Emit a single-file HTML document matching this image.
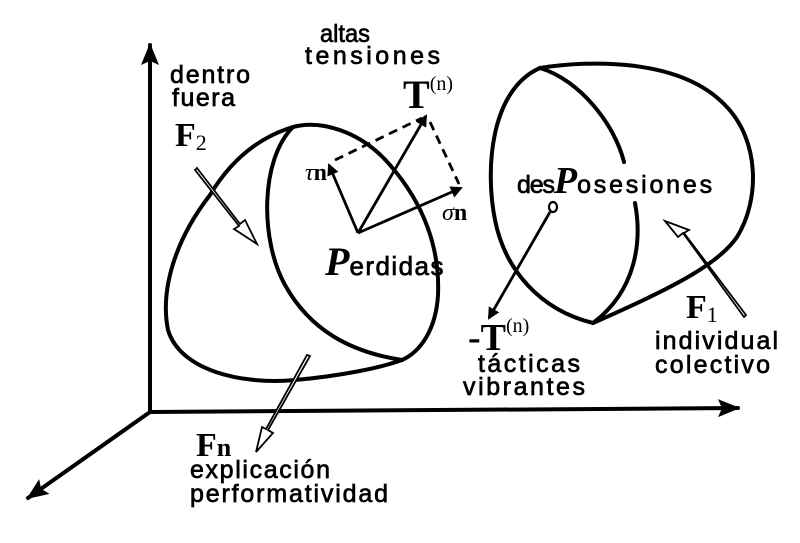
<!DOCTYPE html>
<html><head><style>
html,body{margin:0;padding:0;background:#fff;}
svg{display:block;}
text{fill:#000;}
.s{font-family:"Liberation Sans",sans-serif;}
.r{font-family:"Liberation Serif",serif;}
</style></head><body>
<svg width="800" height="543" viewBox="0 0 800 543">
<defs>
<marker id="a" markerWidth="12" markerHeight="12" refX="10" refY="6" orient="auto" markerUnits="userSpaceOnUse" viewBox="0 0 12 12"><path d="M0,0 L12,6 L0,12 z" fill="#000"/></marker>
<marker id="b" markerWidth="22" markerHeight="18" refX="20" refY="9" orient="auto" markerUnits="userSpaceOnUse" viewBox="0 0 22 18"><path d="M0,0 L22,9 L0,18 L4,9 z" fill="#000"/></marker>
</defs>
<g stroke="#000" fill="none" stroke-width="4" stroke-linecap="round">
<line x1="150" y1="412" x2="150" y2="45" marker-end="url(#b)"/>
<line x1="150" y1="412" x2="738" y2="408" marker-end="url(#b)"/>
<line x1="150" y1="412" x2="28" y2="498" marker-end="url(#b)"/>
<path d="M293,127 C250,140 225,170 210,195 C175,240 160,290 168,330 C180,370 240,385 295,380 C340,376 380,368 402,360"/>
<path d="M293,127 C320,120 360,130 390,165 C425,205 440,250 438,295 C436,330 420,352 402,360"/>
<path d="M293,127 C260,160 260,240 285,285 C310,330 350,352 402,360"/>
<path d="M540,68 C590,60 680,58 725,105 C760,140 760,200 737,237 C720,262 680,285 593,323 C540,310 505,270 495,220 C485,170 490,90 540,68 Z"/>
<path d="M540,68 C580,80 615,125 624,162"/>
<path d="M635,203 C642,240 637,290 593,323"/>
</g>
<g stroke="#000" fill="none" stroke-width="2.8">
<line x1="358" y1="233" x2="426" y2="116" marker-end="url(#a)"/>
<line x1="358" y1="233" x2="329" y2="165" marker-end="url(#a)"/>
<line x1="358" y1="233" x2="461" y2="188" marker-end="url(#a)"/>
<path d="M335,160 L422,118 M430,122 L459,184" stroke-dasharray="9,6"/>
<ellipse cx="553" cy="207" rx="4" ry="5" stroke-width="2.2"/>
<line x1="550" y1="212" x2="489" y2="318" marker-end="url(#a)"/>
</g>
<g stroke="#000" fill="#fff" stroke-width="1.8">
<path d="M197,168 L240,224 L245,220 L257,244 L234,229 L239,226 L195,170 Z"/>
<path d="M744,317 L683,233 L678,237 L665,221 L689,230 L684,233 L746,315 Z"/>
<path d="M310,356 L268,430 L273,433 L256,452 L262,427 L266,429 L307,355 Z"/>
</g>
<g class="s" font-size="25" stroke="#000" stroke-width="0.7">
<text x="320" y="42" textLength="50" lengthAdjust="spacingAndGlyphs">altas</text>
<text x="305" y="64" textLength="135" lengthAdjust="spacing">tensiones</text>
<text x="170" y="83" textLength="80" lengthAdjust="spacing">dentro</text>
<text x="172" y="106" textLength="63" lengthAdjust="spacing">fuera</text>
<text x="655" y="349" textLength="123" lengthAdjust="spacing">individual</text>
<text x="655" y="373" textLength="115" lengthAdjust="spacing">colectivo</text>
<text x="478" y="372" textLength="102" lengthAdjust="spacing">tácticas</text>
<text x="463" y="395" textLength="122" lengthAdjust="spacing">vibrantes</text>
<text x="190" y="478" textLength="140" lengthAdjust="spacing">explicación</text>
<text x="190" y="502" textLength="198" lengthAdjust="spacing">performatividad</text>
</g>
<text class="r" x="175" y="146" font-size="34" font-weight="bold">F<tspan font-size="22" font-weight="normal" dy="4">2</tspan></text>
<text class="r" x="686" y="318" font-size="34" font-weight="bold">F<tspan font-size="22" font-weight="normal" dy="4">1</tspan></text>
<text class="r" x="196" y="456" font-size="34" font-weight="bold">F<tspan font-size="26">n</tspan></text>
<text class="r" x="403" y="108" font-size="40" font-weight="bold">T<tspan font-size="20" font-weight="normal" dy="-18">(n)</tspan></text>
<text class="r" x="468" y="350" font-size="38" font-weight="bold">-T<tspan font-size="20" font-weight="normal" dy="-18">(n)</tspan></text>
<text class="r" x="305" y="180" font-size="24" font-style="italic">τ<tspan font-style="normal" font-weight="bold">n</tspan></text>
<text class="r" x="442" y="220" font-size="24" font-style="italic">σ<tspan font-style="normal" font-weight="bold">n</tspan></text>
<text class="s" x="325" y="275" font-size="26" stroke="#000" stroke-width="0.7"><tspan class="r" font-size="40" font-style="italic" font-weight="bold" stroke-width="0">P</tspan><tspan textLength="94" lengthAdjust="spacing">erdidas</tspan></text>
<text class="s" x="517" y="193" font-size="25" stroke="#000" stroke-width="0.7"><tspan textLength="38" lengthAdjust="spacing">des</tspan><tspan class="r" font-size="38" font-style="italic" font-weight="bold" stroke-width="0">P</tspan><tspan textLength="135" lengthAdjust="spacing">osesiones</tspan></text>
</svg>
</body></html>
